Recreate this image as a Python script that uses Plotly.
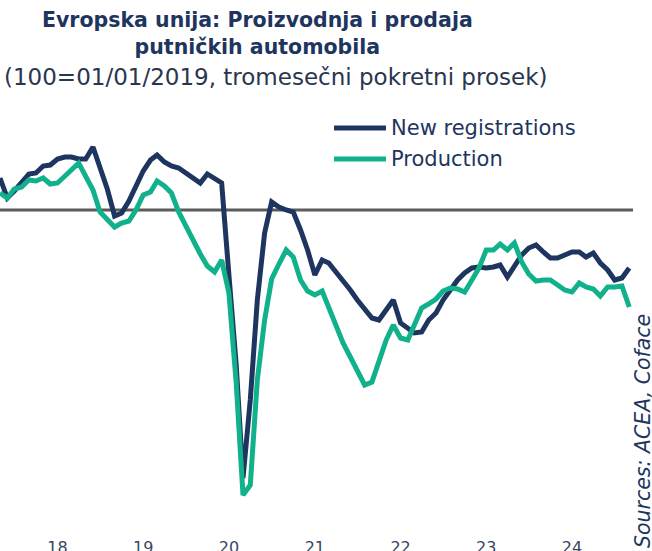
import pandas as pd
import plotly.graph_objects as go

# Monthly index values (100 = 01/01/2019, 3-month moving average), May 2017 - Sep 2024
months = pd.date_range("2017-05-01", periods=89, freq="MS")

new_registrations = [
    106.4, 102.4, 103.8, 105.4, 107.2, 107.4, 108.8, 109.0,
    110.2, 110.6, 110.6, 110.2, 110.2, 112.6, 108.4, 104.2, 98.8, 99.4, 101.8, 104.8, 107.8, 110.0, 111.0, 109.6,
    108.8, 108.4, 107.4, 106.4, 105.4, 107.2, 106.2, 105.4, 87.0, 69.0, 46.4, 62.0,
    82.0, 95.4, 101.6, 100.6, 100.0, 99.6, 96.0, 92.0, 87.0, 90.0, 89.4, 87.6,
    86.0, 84.0, 82.0, 80.0, 78.4, 78.0, 80.0, 82.0, 77.4, 76.4, 75.4, 75.6,
    78.0, 79.4, 82.0, 84.0, 86.0, 87.4, 88.4, 88.6, 88.4, 88.6, 89.0, 86.6,
    88.6, 91.0, 92.4, 93.0, 91.6, 90.4, 90.4, 91.0, 91.6, 91.6, 90.6, 91.4,
    89.4, 88.0, 86.0, 86.4, 88.4,
]

production = [
    103.4, 102.4, 104.2, 104.6, 106.0, 105.8, 106.4, 105.2,
    105.4, 106.6, 108.0, 109.4, 106.8, 104.0, 99.6, 98.0, 96.6, 97.4, 97.8, 100.0, 103.0, 103.6, 105.8, 104.8,
    103.4, 99.6, 96.8, 94.0, 91.2, 88.8, 87.6, 90.0, 83.4, 65.4, 43.0, 45.0,
    66.0, 78.0, 86.2, 89.2, 92.0, 90.6, 86.0, 83.8, 83.0, 83.8, 80.6, 77.0,
    73.4, 70.6, 67.8, 65.0, 65.6, 70.0, 74.0, 77.0, 74.4, 74.0, 77.0, 80.4,
    81.2, 82.2, 83.8, 84.4, 84.2, 83.6, 86.0, 88.4, 92.0, 92.0, 93.2, 92.0,
    93.4, 89.6, 87.2, 85.8, 86.0, 86.0, 85.0, 84.0, 83.6, 85.4, 84.6, 84.2,
    82.8, 84.6, 84.6, 84.8, 80.6,
]

tick_dates = ["2018-01-01", "2019-01-01", "2020-01-01", "2021-01-01",
              "2022-01-01", "2023-01-01", "2024-01-01"]
tick_labels = ["18", "19", "20", "21", "22", "23", "24"]

series_names = ["New registrations", "Production"]

NAVY = "#1e3560"
GREEN = "#11b18b"
FONT = "DejaVu Sans"

W, H = 652, 551
L, R, T, B = 0, 19, 110, 19
PW, PH = W - L - R, H - T - B


def xp(px):
    return (px - L) / PW


def yp(py):
    return (H - B - py) / PH


fig = go.Figure()
fig.add_trace(go.Scatter(x=months, y=new_registrations, mode="lines",
                         name=series_names[0],
                         line=dict(color=NAVY, width=5), showlegend=False))
fig.add_trace(go.Scatter(x=months, y=production, mode="lines",
                         name=series_names[1],
                         line=dict(color=GREEN, width=5), showlegend=False))

# reference line at 100
fig.add_shape(type="line", xref="paper", yref="y", x0=0, x1=1, y0=100, y1=100,
              line=dict(color="#5b5b5b", width=3), layer="below")

# legend (manual)
for i, (name, col) in enumerate(zip(series_names, [NAVY, GREEN])):
    ypx = 128 + 31 * i
    fig.add_shape(type="line", xref="paper", yref="paper",
                  x0=xp(334), x1=xp(386), y0=yp(ypx), y1=yp(ypx),
                  line=dict(color=col, width=5))
    fig.add_annotation(xref="paper", yref="paper", x=xp(389), y=yp(ypx),
                       text=name, showarrow=False, xanchor="left", yanchor="middle",
                       font=dict(family=FONT, size=21, color=NAVY))

fig.add_annotation(xref="paper", yref="paper", x=xp(257), y=yp(34),
                   text="<b>Evropska unija: Proizvodnja i prodaja</b><br><b>putničkih automobila</b>",
                   showarrow=False, xanchor="center", yanchor="middle",
                   font=dict(family=FONT, size=20.5, color=NAVY))
fig.add_annotation(xref="paper", yref="paper", x=xp(275), y=yp(77),
                   text="(100=01/01/2019, tromesečni pokretni prosek)",
                   showarrow=False, xanchor="center", yanchor="middle",
                   font=dict(family=FONT, size=23, color="#2a3550"))
fig.add_annotation(xref="paper", yref="paper", x=xp(643), y=yp(431),
                   text="<i>Sources: ACEA, Coface</i>", textangle=-90,
                   showarrow=False, xanchor="center", yanchor="middle",
                   font=dict(family=FONT, size=20.5, color=NAVY))

fig.update_layout(
    width=W, height=H,
    margin=dict(l=L, r=R, t=T, b=B, autoexpand=False),
    paper_bgcolor="white", plot_bgcolor="white",
    xaxis=dict(type="date", range=["2017-05-01", "2024-09-17"],
               tickvals=tick_dates, ticktext=tick_labels,
               showgrid=False, zeroline=False, showline=False, ticks="",
               automargin=False, ticklabelstandoff=4,
               tickfont=dict(family=FONT, size=16, color="#3a4664")),
    yaxis=dict(range=[142 - (H - B) / 5, 142 - T / 5], visible=False,
               showgrid=False, zeroline=False),
)

fig.write_html("out.html", config={"displayModeBar": False},
               post_script="document.body.style.margin='0';")
